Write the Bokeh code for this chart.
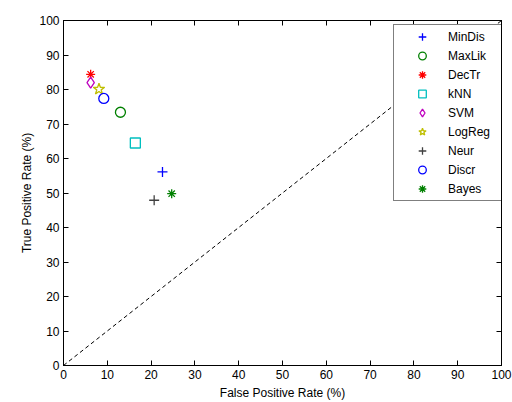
from bokeh.plotting import figure
from bokeh.models import Range1d, LinearAxis, FixedTicker, Legend, LegendItem
from bokeh.embed import file_html
from bokeh.resources import INLINE

methods = ["MinDis", "MaxLik", "DecTr", "kNN", "SVM", "LogReg", "Neur", "Discr", "Bayes"]
fpr = [22.6, 13.0, 6.2, 16.4, 6.2, 8.1, 20.7, 9.2, 24.7]
tpr = [56.1, 73.4, 84.4, 64.5, 82.0, 80.1, 47.9, 77.4, 49.8]
diag = [0, 100]
ticks = list(range(0, 101, 10))

markers = ["cross", "circle", "asterisk", "square", "diamond", "star", "cross", "circle", "asterisk"]
colors = ["#0000ff", "#008000", "#ff0000", "#00bfbf", "#bf00bf", "#bfbf00", "#404040", "#0000ff", "#008000"]
sizes = [10, 10, 9, 10, 11, 12, 10, 10, 9]

FONT = "Liberation Sans"

p = figure(width=512, height=402, output_backend="svg", toolbar_location=None,
           x_range=Range1d(0, 100), y_range=Range1d(0, 100),
           min_border_left=63, min_border_right=11, min_border_top=20, min_border_bottom=36)
p.xgrid.visible = False
p.ygrid.visible = False
p.outline_line_color = "black"
p.outline_line_width = 1
p.background_fill_color = "white"
p.border_fill_color = "white"

for ax in (p.xaxis[0], p.yaxis[0]):
    ax.ticker = FixedTicker(ticks=ticks)
    ax.major_tick_in = 5
    ax.major_tick_out = 0
    ax.minor_tick_line_color = None
    ax.axis_line_color = "black"
    ax.major_tick_line_color = "black"
    ax.major_label_text_font = FONT
    ax.major_label_text_font_size = "12px"
    ax.major_label_text_color = "black"
    ax.axis_label_text_font = FONT
    ax.axis_label_text_font_size = "12px"
    ax.axis_label_text_font_style = "normal"
    ax.axis_label_text_color = "black"

p.xaxis[0].axis_label = "False Positive Rate (%)"
p.yaxis[0].axis_label = "True Positive Rate (%)"
p.xaxis[0].major_label_standoff = 4
p.yaxis[0].major_label_standoff = 4
p.xaxis[0].axis_label_standoff = 4
p.yaxis[0].axis_label_standoff = 2

for loc in ("above", "right"):
    a = LinearAxis(ticker=FixedTicker(ticks=ticks), major_tick_in=5, major_tick_out=0,
                   minor_tick_line_color=None, major_label_text_color=None,
                   major_label_text_font_size="1px",
                   major_label_standoff=0, axis_line_color="black")
    p.add_layout(a, loc)

p.line(diag, diag, line_color="black", line_dash="4 3", line_width=1)

items = []
for i, name in enumerate(methods):
    r = p.scatter([fpr[i]], [tpr[i]], marker=markers[i], size=sizes[i],
                  line_color=colors[i], fill_color=None, line_width=1.3)
    items.append(LegendItem(label=name, renderers=[r]))

leg = Legend(items=items, location=(330, 164), padding=2, spacing=0,
             glyph_width=52, glyph_height=19, label_height=19, label_width=51,
             label_standoff=0, label_text_font=FONT, label_text_font_size="12px",
             label_text_color="black", border_line_color="black", border_line_width=1,
             background_fill_color="white", background_fill_alpha=1.0, margin=0)
p.add_layout(leg, "center")

open("out.html", "w").write(file_html(p, INLINE))
